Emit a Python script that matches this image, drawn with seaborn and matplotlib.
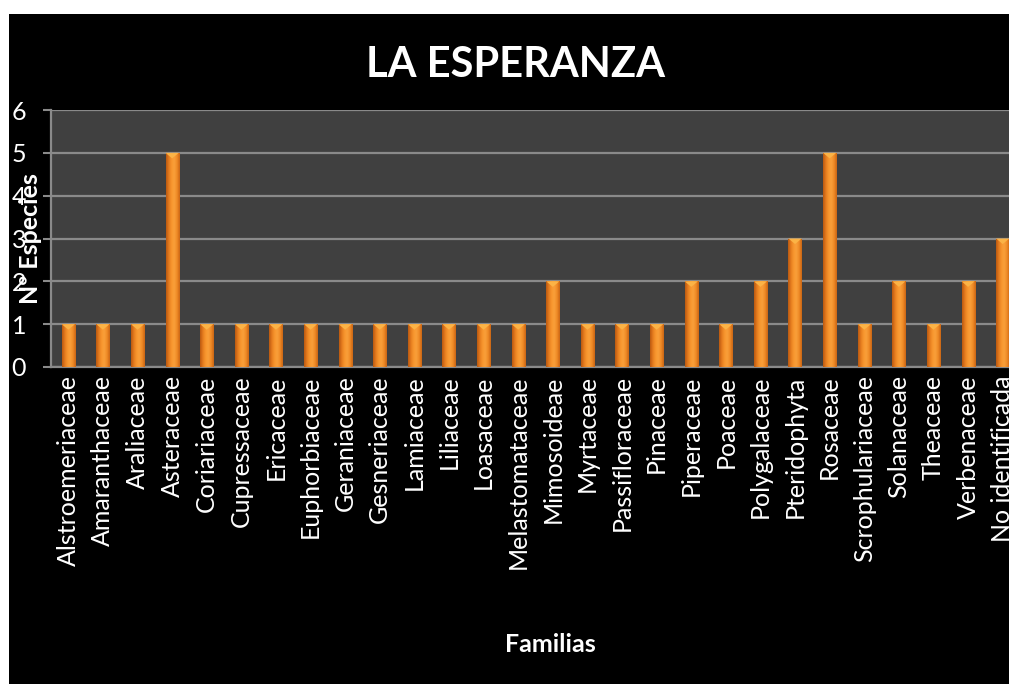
import numpy as np
import pandas as pd
import matplotlib
matplotlib.use("Agg")
import matplotlib.pyplot as plt
from matplotlib.patches import Rectangle, Polygon
from matplotlib.colors import LinearSegmentedColormap
import seaborn as sns

familias = [
    "Alstroemeriaceae", "Amaranthaceae", "Araliaceae", "Asteraceae", "Coriariaceae",
    "Cupressaceae", "Ericaceae", "Euphorbiaceae", "Geraniaceae", "Gesneriaceae",
    "Lamiaceae", "Liliaceae", "Loasaceae", "Melastomataceae", "Mimosoideae",
    "Myrtaceae", "Passifloraceae", "Pinaceae", "Piperaceae", "Poaceae",
    "Polygalaceae", "Pteridophyta", "Rosaceae", "Scrophulariaceae", "Solanaceae",
    "Theaceae", "Verbenaceae", "No identificada",
]
especies = [1, 1, 1, 5, 1, 1, 1, 1, 1, 1, 1, 1, 1, 1, 2,
            1, 1, 1, 2, 1, 2, 3, 5, 1, 2, 1, 2, 3]
y_ticks = [0, 1, 2, 3, 4, 5, 6]

titulo = "LA ESPERANZA"
eje_x = "Familias"
eje_y = "Nº Especies"

df = pd.DataFrame({"familia": familias, "especies": especies})

sns.set_theme(style="dark")
plt.rcParams["font.family"] = ["Lato", "DejaVu Sans"]

W, H = 1009, 684
fig = plt.figure(figsize=(W / 100, H / 100), dpi=100, facecolor="white")

# black chart area with a thin white margin on the top and left
fig.patches.append(Rectangle((9 / W, 0), 1.0, 1 - 14 / H, transform=fig.transFigure,
                             facecolor="black", edgecolor="none", zorder=-5))

# plot area runs a little beyond the right edge of the figure
left, right, top, bottom = 51, 1020, 110, 367
ax = fig.add_axes([left / W, 1 - bottom / H, (right - left) / W, (bottom - top) / H])
ax.set_facecolor("#404040")

sns.barplot(data=df, x="familia", y="especies", color="#f28a25", width=0.38,
            saturation=1, linewidth=0, edgecolor="none", ax=ax, zorder=3)

# cylinder-like shading on each bar plus a light bevel at its top
shade = LinearSegmentedColormap.from_list(
    "shade", ["#b85810", "#e47b1e", "#f8962e", "#f9a03a", "#ef8a26", "#c86414"])
grad = np.linspace(0, 1, 64).reshape(1, -1)
for bar in list(ax.patches):
    x0, y0 = bar.get_x(), bar.get_y()
    w, h = bar.get_width(), bar.get_height()
    im = ax.imshow(grad, cmap=shade, aspect="auto", extent=(x0, x0 + w, y0, y0 + h),
                   zorder=4, interpolation="bicubic")
    im.set_clip_path(bar)
    depth = 0.13
    tri = Polygon([(x0, y0 + h), (x0 + w, y0 + h), (x0 + w / 2, y0 + h - depth)],
                  closed=True, facecolor="#fbb346", edgecolor="none", zorder=5)
    ax.add_patch(tri)

ax.set_xlim(-0.5, len(familias) - 0.5)
ax.set_ylim(0, 6)
ax.set_yticks(y_ticks)
ax.yaxis.grid(True, color="#8a8a8a", linewidth=1.6, zorder=1)
ax.xaxis.grid(False)

for side in ["top", "right"]:
    ax.spines[side].set_visible(False)
for side in ["left", "bottom"]:
    ax.spines[side].set_visible(True)
    ax.spines[side].set_color("#8a8a8a")
    ax.spines[side].set_linewidth(1.6)

ax.tick_params(axis="y", colors="#8a8a8a", labelcolor="white", length=6, width=1.5,
               pad=12, labelsize=18, left=True)
ax.tick_params(axis="x", labelcolor="white", labelsize=18, length=0, pad=6,
               labelrotation=90)

ax.set_xlabel(eje_x, color="white", fontsize=18, fontweight="bold", va="center")
ax.xaxis.set_label_coords((550 - left) / (right - left), -(645 - bottom) / (bottom - top))
ax.set_ylabel(eje_y, color="white", fontsize=18, fontweight="bold", va="center")
ax.yaxis.set_label_coords((31 - left) / (right - left), 0.5)

fig.text(515 / W, 1 - 65 / H, titulo, color="white", fontsize=30, fontweight="bold",
         ha="center", va="center")

fig.savefig("out.png", dpi=100, facecolor="white")
